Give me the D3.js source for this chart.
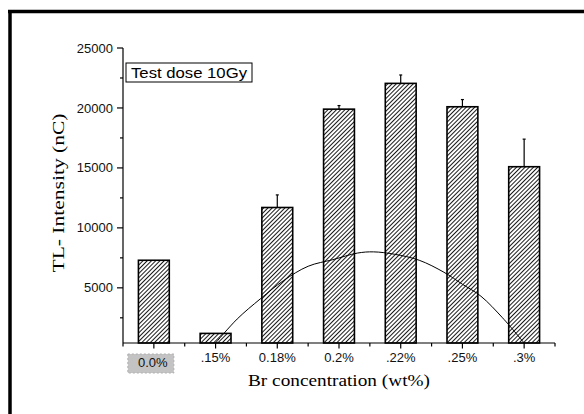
<!DOCTYPE html>
<html>
<head>
<meta charset="utf-8">
<script src="https://cdn.jsdelivr.net/npm/d3@7"></script>
<style>
html,body{margin:0;padding:0;background:#fff;}
svg{display:block;}
</style>
</head>
<body>
<script>
// ---- data ----
const categories = ["0.0%", ".15%", "0.18%", "0.2%", ".22%", ".25%", ".3%"];
const intensity = [7300, 1200, 11700, 19900, 22050, 20100, 15100];
const errorUp = [0, 0, 1050, 300, 700, 600, 2300];
const yTicks = [5000, 10000, 15000, 20000, 25000];
const yMinorTicks = [2500, 7500, 12500, 17500, 22500];
const curveIndex = [1.0, 1.35, 1.73, 2.1, 2.5, 2.9, 3.3, 3.56, 3.9, 4.3, 4.7, 5.0, 5.3, 5.65, 6.0];
const curveValue = [400, 2400, 4100, 5600, 6800, 7350, 7900, 8000, 7800, 7300, 6300, 5300, 4300, 2500, 400];
const legendText = "Test dose 10Gy";
const xTitle = "Br concentration (wt%)";
const yTitle = "TL- Intensity (nC)";

const W = 584, H = 414;
const svg = d3.select("body").append("svg").attr("width", W).attr("height", H);

// hatch pattern
const defs = svg.append("defs");
const pat = defs.append("pattern").attr("id", "hatch")
  .attr("patternUnits", "userSpaceOnUse").attr("width", 3).attr("height", 3)
  .attr("patternTransform", "rotate(45)");
pat.append("rect").attr("width", 3).attr("height", 3).attr("fill", "#fff");
pat.append("line").attr("x1", 0.5).attr("y1", 0).attr("x2", 0.5).attr("y2", 3)
  .attr("stroke", "#000").attr("stroke-width", 0.9);

// outer frame (top and left only)
svg.append("line").attr("x1", 8).attr("y1", 11.5).attr("x2", W).attr("y2", 11.5)
  .attr("stroke", "#000").attr("stroke-width", 3.5);
svg.append("line").attr("x1", 10).attr("y1", 10).attr("x2", 10).attr("y2", H)
  .attr("stroke", "#000").attr("stroke-width", 3.5);

// scales
const x0 = 123, x1 = 555, yBase = 343, yTop = 48;
const x = d3.scaleBand().domain(categories).range([x0, x1]).paddingInner(0.5).paddingOuter(0.25);
const y = d3.scaleLinear().domain([400, 25000]).range([yBase, yTop]);
const xi = d3.scaleLinear().domain([0, categories.length - 1])
  .range([x(categories[0]) + x.bandwidth() / 2, x(categories[categories.length - 1]) + x.bandwidth() / 2]);

// bars
const g = svg.append("g");
g.selectAll("rect.bar").data(categories).join("rect").attr("class", "bar")
  .attr("x", d => x(d)).attr("width", x.bandwidth())
  .attr("y", (d, i) => y(intensity[i])).attr("height", (d, i) => yBase - y(intensity[i]))
  .attr("fill", "url(#hatch)").attr("stroke", "#000").attr("stroke-width", 1.6);

// error bars
categories.forEach((c, i) => {
  if (!errorUp[i]) return;
  const cx = x(c) + x.bandwidth() / 2;
  g.append("line").attr("x1", cx).attr("x2", cx)
    .attr("y1", y(intensity[i])).attr("y2", y(intensity[i] + errorUp[i]))
    .attr("stroke", "#000").attr("stroke-width", 1.2);
  g.append("line").attr("x1", cx - 1.5).attr("x2", cx + 1.5)
    .attr("y1", y(intensity[i] + errorUp[i])).attr("y2", y(intensity[i] + errorUp[i]))
    .attr("stroke", "#000").attr("stroke-width", 1.2);
});

// fit curve
const pts = curveIndex.map((v, i) => [xi(v), y(curveValue[i])]);
g.append("path").attr("d", d3.line().curve(d3.curveCatmullRom)(pts))
  .attr("fill", "none").attr("stroke", "#000").attr("stroke-width", 1);

// y axis
const yAxis = svg.append("g");
yAxis.append("line").attr("x1", x0).attr("x2", x0).attr("y1", yTop).attr("y2", yBase)
  .attr("stroke", "#000").attr("stroke-width", 1.2);
yAxis.selectAll("line.maj").data(yTicks).join("line").attr("class", "maj")
  .attr("x1", x0 - 6).attr("x2", x0).attr("y1", d => y(d)).attr("y2", d => y(d))
  .attr("stroke", "#000").attr("stroke-width", 1.2);
yAxis.selectAll("line.min").data(yMinorTicks).join("line").attr("class", "min")
  .attr("x1", x0 - 3).attr("x2", x0).attr("y1", d => y(d)).attr("y2", d => y(d))
  .attr("stroke", "#000").attr("stroke-width", 1.2);
yAxis.selectAll("text").data(yTicks).join("text")
  .attr("x", x0 - 10).attr("y", d => y(d)).attr("dy", "0.35em")
  .attr("text-anchor", "end").attr("font-family", "Liberation Sans, Arial, sans-serif")
  .attr("font-size", 13).attr("fill", "#111").text(d => d);

// x axis
const xAxis = svg.append("g");
xAxis.append("line").attr("x1", x0).attr("x2", x1).attr("y1", yBase).attr("y2", yBase)
  .attr("stroke", "#000").attr("stroke-width", 1.2);
const bounds = [x0].concat(categories.map(c => x(c) + x.bandwidth() / 2 + x.step() / 2));
xAxis.selectAll("line.bd").data(bounds).join("line").attr("class", "bd")
  .attr("x1", d => d).attr("x2", d => d).attr("y1", yBase).attr("y2", yBase + 3.5)
  .attr("stroke", "#000").attr("stroke-width", 1.2);
xAxis.selectAll("line.ct").data(categories).join("line").attr("class", "ct")
  .attr("x1", d => x(d) + x.bandwidth() / 2).attr("x2", d => x(d) + x.bandwidth() / 2)
  .attr("y1", yBase).attr("y2", yBase + 5.5)
  .attr("stroke", "#000").attr("stroke-width", 1.2);
// highlighted first label box
const c0 = x(categories[0]) + x.bandwidth() / 2;
xAxis.append("rect").attr("x", c0 - 26).attr("y", 354).attr("width", 46).attr("height", 19)
  .attr("fill", "#c3c3c3").attr("stroke", "#b0b0b0").attr("stroke-dasharray", "2,2");
xAxis.selectAll("text").data(categories).join("text")
  .attr("x", d => x(d) + x.bandwidth() / 2 + (d === categories[0] ? -1 : 0))
  .attr("y", d => d === categories[0] ? 367 : 362)
  .attr("text-anchor", "middle").attr("font-family", "Liberation Sans, Arial, sans-serif")
  .attr("font-size", 13).attr("fill", "#111").text(d => d);

// legend
svg.append("rect").attr("x", 126).attr("y", 63).attr("width", 126).attr("height", 19)
  .attr("fill", "#fff").attr("stroke", "#000").attr("stroke-width", 1);
svg.append("text").attr("x", 131).attr("y", 78)
  .attr("font-family", "Liberation Sans, Arial, sans-serif").attr("font-size", 15)
  .attr("textLength", 116).attr("lengthAdjust", "spacingAndGlyphs").text(legendText);

// titles
svg.append("text").attr("x", 248).attr("y", 386)
  .attr("font-family", "Liberation Serif, Times New Roman, serif").attr("font-size", 17.5)
  .attr("textLength", 182).attr("lengthAdjust", "spacingAndGlyphs").text(xTitle);
svg.append("text").attr("transform", "translate(64,193) rotate(-90)")
  .attr("text-anchor", "middle")
  .attr("font-family", "Liberation Serif, Times New Roman, serif").attr("font-size", 17.5)
  .attr("textLength", 159).attr("lengthAdjust", "spacingAndGlyphs").text(yTitle);
</script>
</body>
</html>
